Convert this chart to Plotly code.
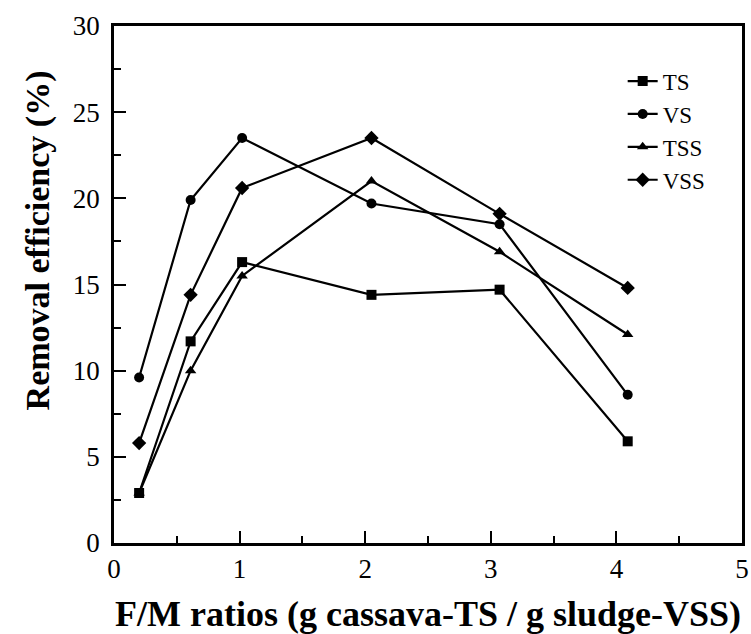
import plotly.graph_objects as go

x_vals = [0.2, 0.61, 1.02, 2.05, 3.07, 4.09]
ts = [2.9, 11.7, 16.3, 14.4, 14.7, 5.9]
vs = [9.6, 19.9, 23.5, 19.7, 18.5, 8.6]
tss = [2.9, 10.0, 15.5, 21.0, 16.9, 12.1]
vss = [5.8, 14.4, 20.6, 23.5, 19.1, 14.8]

series = [("TS", ts, "square"), ("VS", vs, "circle"),
          ("TSS", tss, "triangle-up"), ("VSS", vss, "diamond")]

fig = go.Figure()
for name, vals, sym in series:
    fig.add_trace(go.Scatter(
        x=x_vals, y=vals, name=name, mode="lines+markers",
        line=dict(color="black", width=2.2),
        marker=dict(symbol=sym, size=10 if sym != "diamond" else 11, color="black"),
    ))

serif = "Liberation Serif"
fig.update_layout(
    width=751, height=634,
    margin=dict(l=114, r=9, t=26, b=91),
    paper_bgcolor="white", plot_bgcolor="white",
    font=dict(family=serif, color="black"),
    legend=dict(x=0.81, y=0.935, xanchor="left", yanchor="top",
                font=dict(family=serif, size=23, color="black"),
                bgcolor="rgba(0,0,0,0)", tracegroupgap=0),
    xaxis=dict(
        range=[0, 5], dtick=1, tick0=0, automargin=False,
        showline=True, linecolor="black", linewidth=2.5, mirror=True,
        ticks="inside", ticklen=12, tickwidth=2, tickcolor="black",
        minor=dict(ticks="inside", ticklen=7, tickwidth=2, tickcolor="black", dtick=0.5),
        showgrid=False, zeroline=False,
        tickfont=dict(family=serif, size=27, color="black"),
        title=dict(text="<b>F/M ratios (g cassava-TS / g sludge-VSS)</b>",
                   font=dict(family=serif, size=36, color="black"), standoff=18),
    ),
    yaxis=dict(
        range=[0, 30], dtick=5, tick0=0, automargin=False,
        showline=True, linecolor="black", linewidth=2.5, mirror=True,
        ticks="inside", ticklen=12, tickwidth=2, tickcolor="black",
        minor=dict(ticks="inside", ticklen=7, tickwidth=2, tickcolor="black", dtick=2.5),
        showgrid=False, zeroline=False,
        tickfont=dict(family=serif, size=27, color="black"),
        ticklabelstandoff=6,
    ),
    annotations=[dict(
        text="<b>Removal efficiency (%)</b>", textangle=-90,
        xref="paper", yref="paper", x=-0.087, y=0.586,
        xanchor="right", yanchor="middle", showarrow=False,
        font=dict(family=serif, size=34, color="black"),
    )],
)

fig.write_html("out.html")
